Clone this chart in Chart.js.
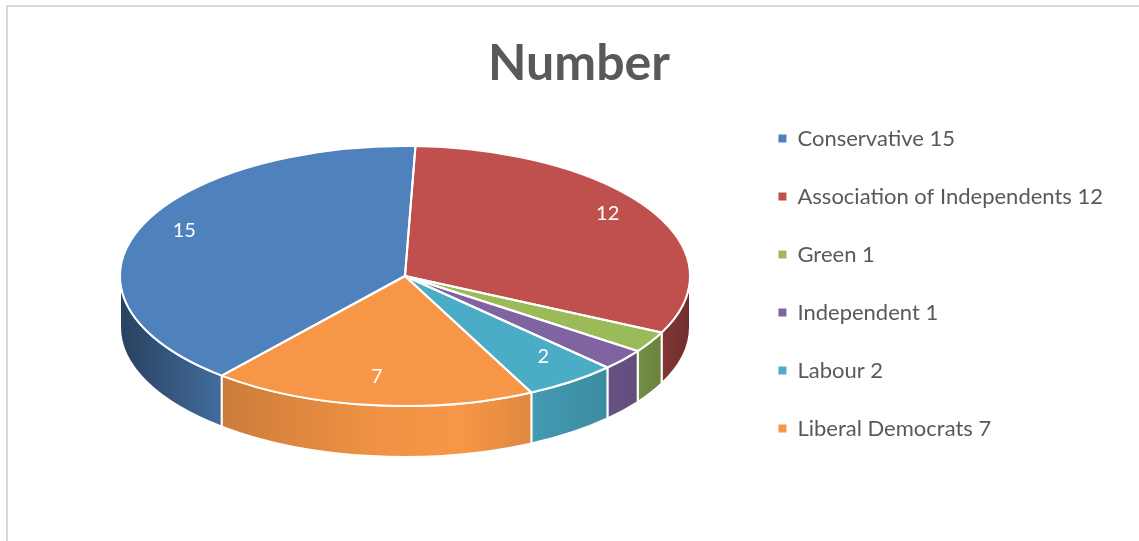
<!DOCTYPE html>
<html>
<head>
<meta charset="utf-8">
<script src="https://cdn.jsdelivr.net/npm/chart.js@4.4.1/dist/chart.umd.min.js"></script>
<style>
  html, body { margin: 0; padding: 0; background: #fff; }
  #wrap { position: relative; width: 1139px; height: 541px; overflow: hidden; }
  #cadre { position: absolute; left: 6px; top: 5px; width: 1150px; height: 560px; border: 2px solid #d9d9d9; box-sizing: border-box; }
  canvas { position: absolute; left: 20px; top: 0; }
</style>
</head>
<body>
<div id="wrap">
  <div id="cadre"></div>
  <canvas id="MyChart" width="1119" height="541"></canvas>
</div>
<script>
const partis = ["Conservative", "Association of Independents", "Green", "Independent", "Labour", "Liberal Democrats"]
const sieges = [15, 12, 1, 1, 2, 7]
const couleurs = ["#4F81BD", "#C0504D", "#9BBB59", "#8064A2", "#4BACC6", "#F79646"]
const etiquettesVisibles = [true, true, false, false, true, true]

// géométrie du camembert incliné (coordonnées du canvas)
const centre3D = { x: 385, y: 276 }
const rayonX = 285
const rayonY = 130
const epaisseur = 51
const centreEtiquettes = { x: 385, y: 269 } // la perspective remonte un peu le centre
const rayonEtiquettes = 0.83

function assombrir(hex, f) {
    const n = parseInt(hex.slice(1), 16)
    const r = Math.round(((n >> 16) & 255) * f)
    const g = Math.round(((n >> 8) & 255) * f)
    const b = Math.round((n & 255) * f)
    return `rgb(${r}, ${g}, ${b})`
}

// morceaux de [s, e] visibles sur le devant (angles 0..PI, 2PI..3PI)
function partiesVisibles(s, e) {
    const res = []
    for (const [a, b] of [[0, Math.PI], [2 * Math.PI, 3 * Math.PI], [-2 * Math.PI, -Math.PI]]) {
        const lo = Math.max(s, a), hi = Math.min(e, b)
        if (hi > lo) res.push([lo, hi])
    }
    return res
}

let geo = null

const pie3D = {
    id: 'pie3D',
    beforeDatasetsDraw(chart) {
        const ctx = chart.ctx
        const arcs = chart.getDatasetMeta(0).data
        const R = arcs[0].outerRadius
        geo = { cx: arcs[0].x, cy: arcs[0].y, R: R, sx: rayonX / R, sy: rayonY / R }
        const D = epaisseur / geo.sy

        arcs.forEach((arc, i) => {
            partiesVisibles(arc.startAngle, arc.endAngle).forEach(([a, b]) => {
                ctx.save()
                ctx.translate(centre3D.x, centre3D.y)
                ctx.scale(geo.sx, geo.sy)
                ctx.translate(-geo.cx, -geo.cy)
                ctx.beginPath()
                ctx.arc(geo.cx, geo.cy, R, a, b)
                ctx.arc(geo.cx, geo.cy + D, R, b, a, true)
                ctx.closePath()
                const grad = ctx.createLinearGradient(geo.cx - R, 0, geo.cx + R, 0)
                const stops = [[0, 0.5], [0.17, 0.82], [0.45, 0.97], [0.6, 1.0], [0.75, 0.88], [0.9, 0.78], [1, 0.58]]
                stops.forEach(([p, f]) => grad.addColorStop(p, assombrir(couleurs[i], f)))
                ctx.fillStyle = grad
                ctx.fill()
                ctx.restore()
                ctx.strokeStyle = '#ffffff'
                ctx.lineWidth = 2
                ctx.stroke()
            })
        })

        ctx.save()
        ctx.translate(centre3D.x, centre3D.y)
        ctx.scale(geo.sx, geo.sy)
        ctx.translate(-geo.cx, -geo.cy)
    },
    afterDatasetsDraw(chart) {
        const ctx = chart.ctx
        ctx.restore()
        const arcs = chart.getDatasetMeta(0).data

        // contours blancs des parts
        arcs.forEach((arc) => {
            ctx.save()
            ctx.translate(centre3D.x, centre3D.y)
            ctx.scale(geo.sx, geo.sy)
            ctx.translate(-geo.cx, -geo.cy)
            ctx.beginPath()
            ctx.moveTo(arc.x, arc.y)
            ctx.arc(arc.x, arc.y, arc.outerRadius, arc.startAngle, arc.endAngle)
            ctx.closePath()
            ctx.restore()
            ctx.strokeStyle = '#ffffff'
            ctx.lineWidth = 2
            ctx.lineJoin = 'round'
            ctx.stroke()
        })

        // étiquettes de valeurs
        ctx.save()
        ctx.fillStyle = '#ffffff'
        ctx.font = '20px Lato'
        ctx.textAlign = 'center'
        ctx.textBaseline = 'middle'
        arcs.forEach((arc, i) => {
            if (!etiquettesVisibles[i]) return
            const m = (arc.startAngle + arc.endAngle) / 2
            const r = arc.outerRadius * rayonEtiquettes
            const x = centreEtiquettes.x + Math.cos(m) * r * geo.sx
            const y = centreEtiquettes.y + Math.sin(m) * r * geo.sy
            ctx.fillText(String(sieges[i]), x, y)
        })
        ctx.restore()
    }
}

const data = {
    labels: partis,
    datasets: [{
        data: sieges,
        backgroundColor: couleurs,
        borderWidth: 0
    }]
}

const config = {
    type: 'pie',
    data: data,
    options: {
        responsive: false,
        animation: false,
        events: [],
        rotation: 220,
        layout: { padding: { left: 25, right: 26, top: 26, bottom: 0 } },
        plugins: {
            title: {
                display: true,
                text: 'Number',
                color: '#595959',
                font: { family: 'Lato', size: 50, weight: 'bold' },
                padding: { top: 8, bottom: 62 }
            },
            legend: {
                position: 'right',
                labels: {
                    font: { family: 'Lato', size: 22 },
                    color: '#595959',
                    boxWidth: 8,
                    boxHeight: 8,
                    padding: 36,
                    generateLabels: (chart) => partis.map((p, i) => ({
                        text: p + ' ' + sieges[i],
                        fillStyle: couleurs[i],
                        strokeStyle: couleurs[i],
                        lineWidth: 0,
                        fontColor: '#595959',
                        index: i
                    }))
                }
            },
            tooltip: { enabled: false }
        }
    },
    plugins: [pie3D]
}

new Chart(document.getElementById('MyChart'), config)
</script>
</body>
</html>
